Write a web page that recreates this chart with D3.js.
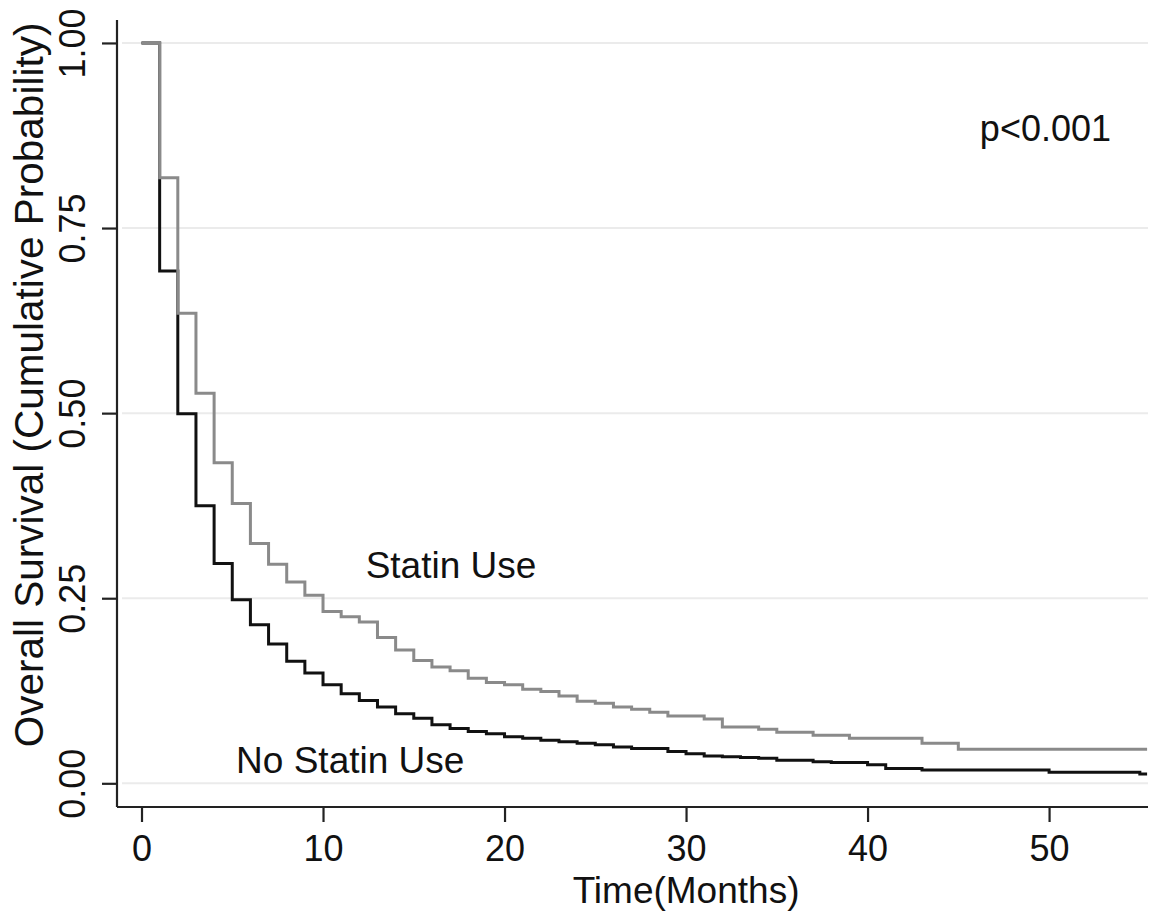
<!DOCTYPE html>
<html>
<head>
<meta charset="utf-8">
<script src="https://cdn.jsdelivr.net/npm/d3@7"></script>
<style>
	body { margin: 0; background: #fff; }
	text { font-family: "Liberation Sans", Arial, Helvetica, sans-serif; fill: #111; }
</style>
</head>
<body>
<script>
// Kaplan-Meier steps (month of drop, survival after drop)
var statinMonths = [0, 1, 2, 3, 4, 5, 6, 7, 8, 9, 10, 11, 12, 13, 14, 15, 16, 17, 18, 19, 20, 21, 22, 23, 24, 25, 26, 27, 28, 29, 31, 32, 34, 35, 37, 39, 43, 45];
var statinSurv = [1.0, 0.818, 0.635, 0.527, 0.433, 0.378, 0.324, 0.296, 0.272, 0.254, 0.232, 0.225, 0.218, 0.197, 0.18, 0.166, 0.157, 0.152, 0.142, 0.136, 0.133, 0.127, 0.124, 0.118, 0.111, 0.108, 0.103, 0.1, 0.096, 0.091, 0.087, 0.076, 0.073, 0.069, 0.065, 0.061, 0.054, 0.046];

var noStatinMonths = [0, 1, 2, 3, 4, 5, 6, 7, 8, 9, 10, 11, 12, 13, 14, 15, 16, 17, 18, 19, 20, 21, 22, 23, 24, 25, 26, 27, 29, 30, 31, 32, 33, 34, 35, 37, 38, 40, 41, 43, 50, 55];
var noStatinSurv = [1.0, 0.692, 0.499, 0.375, 0.297, 0.248, 0.214, 0.188, 0.165, 0.149, 0.133, 0.121, 0.112, 0.103, 0.094, 0.088, 0.079, 0.074, 0.07, 0.067, 0.063, 0.061, 0.058, 0.056, 0.054, 0.052, 0.049, 0.047, 0.043, 0.04, 0.037, 0.036, 0.035, 0.034, 0.031, 0.029, 0.028, 0.025, 0.02, 0.018, 0.015, 0.0125];

var followUpEnd = 55.4;
var xTicks = [0, 10, 20, 30, 40, 50];
var yTicks = [0, 0.25, 0.5, 0.75, 1];

var marginTop = 20;
var marginRight = 12;
var marginBottom = 109;
var marginLeft = 117;
var width = 1160 - marginLeft - marginRight;
var height = 916 - marginTop - marginBottom;

var svg = d3
	.select("body")
	.append("svg")
	.attr("width", width + marginLeft + marginRight)
	.attr("height", height + marginTop + marginBottom)
	.append("g")
	.attr("transform", "translate(" + marginLeft + "," + marginTop + ")");

var x = d3.scaleLinear().domain([-1.35, 55.45]).range([0, width]);
var y = d3.scaleLinear().domain([-0.032, 1.031]).range([height, 0]);

// gridlines
svg
	.selectAll(".grid")
	.data(yTicks)
	.join("line")
	.attr("class", "grid")
	.attr("x1", 5)
	.attr("x2", width)
	.attr("y1", (d) => y(d))
	.attr("y2", (d) => y(d))
	.style("stroke", "#ebebeb")
	.style("stroke-width", 2);

function series(months, surv) {
	var pts = months.map((m, i) => [m, surv[i]]);
	pts.push([followUpEnd, surv[surv.length - 1]]);
	return pts;
}

var line = d3
	.line()
	.x((d) => x(d[0]))
	.y((d) => y(d[1]))
	.curve(d3.curveStepAfter);

svg
	.append("path")
	.attr("d", line(series(noStatinMonths, noStatinSurv)))
	.style("fill", "none")
	.style("stroke", "#111")
	.style("stroke-width", 3);

svg
	.append("path")
	.attr("d", line(series(statinMonths, statinSurv)))
	.style("fill", "none")
	.style("stroke", "#8a8a8a")
	.style("stroke-width", 3);

// axes
var xAxis = svg
	.append("g")
	.attr("transform", "translate(0," + height + ")")
	.call(d3.axisBottom(x).tickValues(xTicks).tickSize(15).tickSizeOuter(0).tickPadding(13));

var yAxis = svg
	.append("g")
	.call(d3.axisLeft(y).tickValues(yTicks).tickFormat(d3.format(".2f")).tickSize(15).tickSizeOuter(0));

[xAxis, yAxis].forEach((a) => {
	a.select(".domain").style("stroke", "#222").style("stroke-width", 2.2);
	a.selectAll(".tick line").style("stroke", "#222").style("stroke-width", 2.2);
	a.selectAll("text").style("font-size", "36px").style("font-family", "'Liberation Sans', Arial, sans-serif").attr("fill", "#111");
});

yAxis
	.selectAll(".tick text")
	.attr("x", null)
	.attr("dy", null)
	.attr("transform", "translate(-32,0) rotate(-90)")
	.style("text-anchor", "middle");

xAxis.select(".domain").attr("d", "M0,0H" + width);
yAxis.select(".domain").attr("d", "M0," + height + "V0");

// axis titles
svg
	.append("text")
	.attr("x", x(30))
	.attr("y", height + 96)
	.style("text-anchor", "middle")
	.style("font-size", "37px")
	.text("Time(Months)");

svg
	.append("text")
	.attr("transform", "translate(" + (43 - marginLeft) + "," + (385 - marginTop) + ") rotate(-90)")
	.style("text-anchor", "middle")
	.style("font-size", "40.5px")
	.text("Overall Survival (Cumulative Probability)");

// annotations
svg
	.append("text")
	.attr("x", x(17.05))
	.attr("y", y(0.277))
	.style("text-anchor", "middle")
	.style("font-size", "37px")
	.text("Statin Use");

svg
	.append("text")
	.attr("x", x(11.5))
	.attr("y", y(0.014))
	.style("text-anchor", "middle")
	.style("font-size", "37px")
	.text("No Statin Use");

svg
	.append("text")
	.attr("x", x(49.8))
	.attr("y", y(0.868))
	.style("text-anchor", "middle")
	.style("font-size", "36px")
	.text("p<0.001");
</script>
</body>
</html>
